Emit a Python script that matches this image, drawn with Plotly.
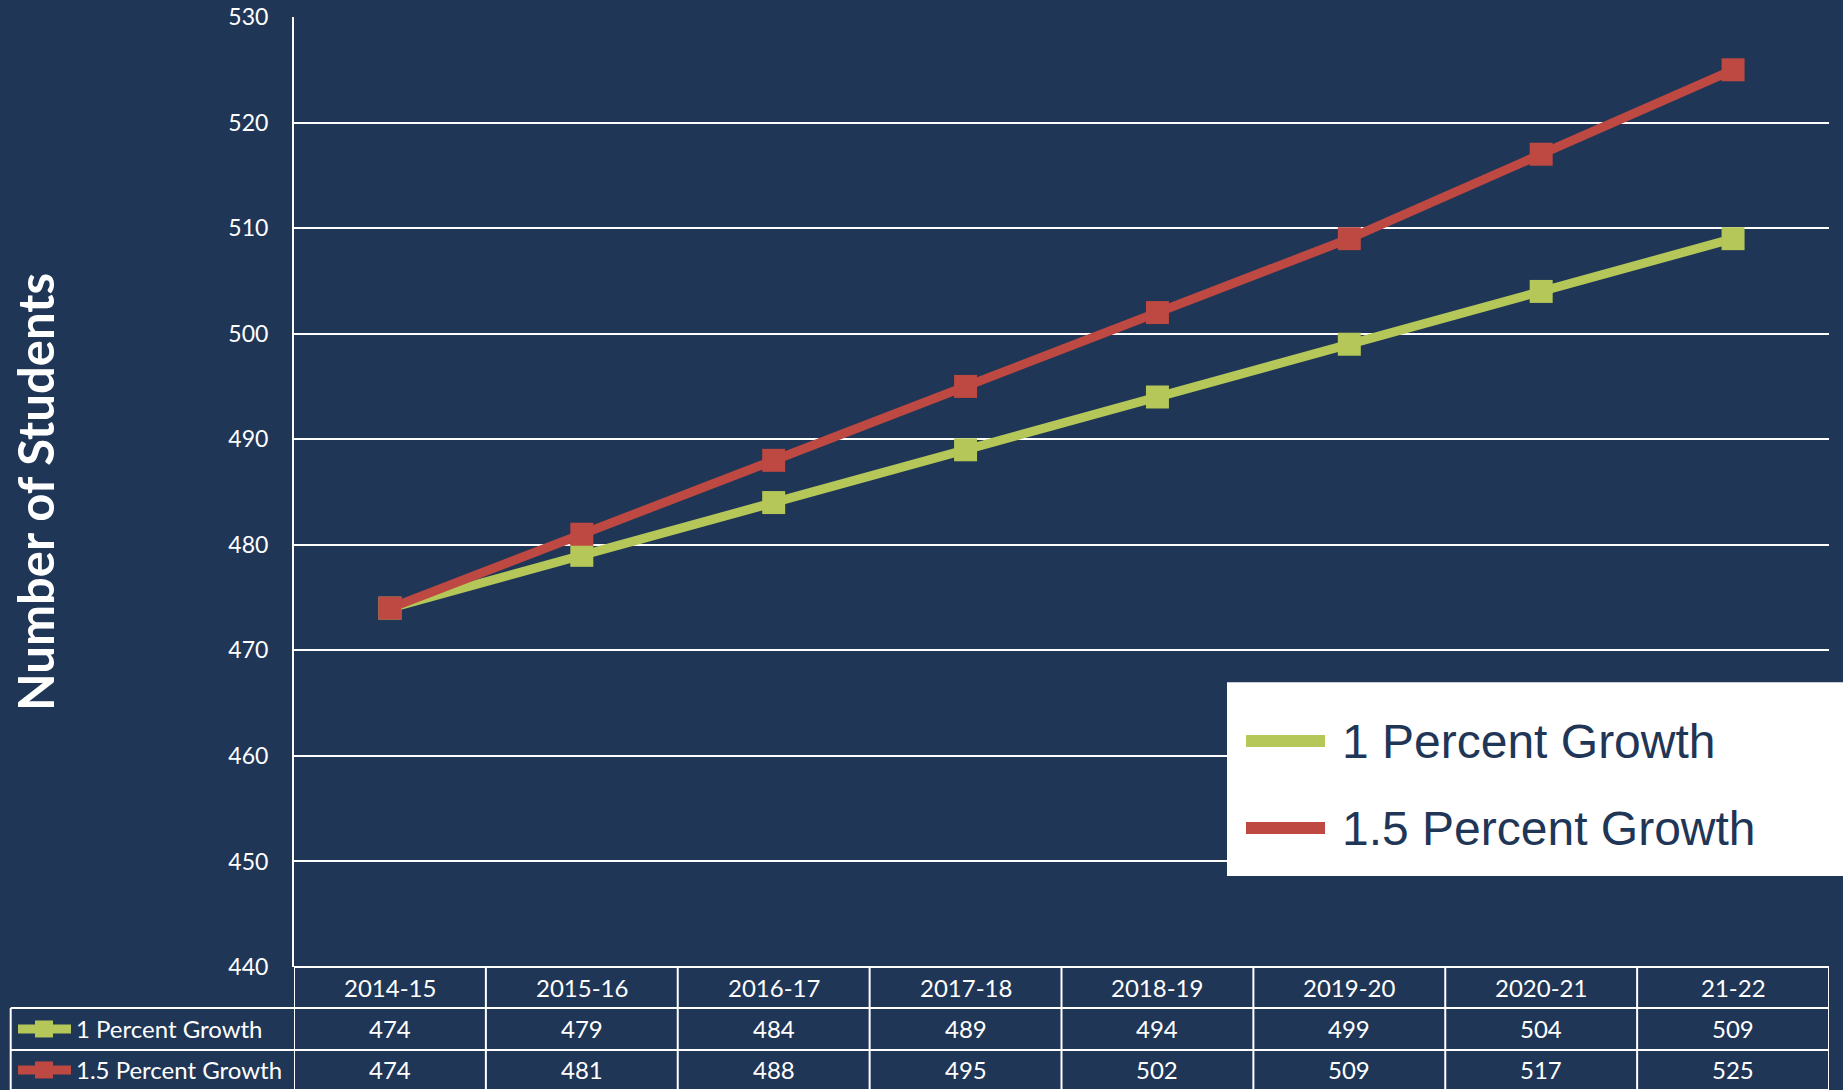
import plotly.graph_objects as go

# ---- data ----
years = ["2014-15", "2015-16", "2016-17", "2017-18", "2018-19", "2019-20", "2020-21", "21-22"]
series_names = ["1 Percent Growth", "1.5 Percent Growth"]
growth_1 = [474, 479, 484, 489, 494, 499, 504, 509]
growth_15 = [474, 481, 488, 495, 502, 509, 517, 525]
y_ticks = [440, 450, 460, 470, 480, 490, 500, 510, 520, 530]

# ---- styles ----
BG = "#1f3657"
GREEN = "#b4c758"
RED = "#be4842"
WHITE = "#ffffff"
colors = [GREEN, RED]
series = [growth_1, growth_15]

W, H = 1843, 1090
L, R, T, B = 294, 14, 16.5, 123
plot_h = H - T - B
plot_w = W - L - R


def py(pixel_y):
    """pixel y -> paper y"""
    return (H - B - pixel_y) / plot_h


def px(pixel_x):
    return (pixel_x - L) / plot_w


fig = go.Figure()
for name, vals, col in zip(series_names, series, colors):
    fig.add_trace(go.Scatter(
        x=years, y=vals, name=name, mode="lines+markers",
        line=dict(color=col, width=9),
        marker=dict(symbol="square", size=23, color=col, line=dict(width=0)),
        showlegend=False,
    ))

shapes = []
annotations = []

# table geometry (pixels)
row_edges = [967, 1008, 1050, 1090]
table_left = 10.7

# horizontal lines
shapes.append(dict(type="line", xref="paper", yref="paper", x0=0, x1=1,
                   y0=py(row_edges[0]), y1=py(row_edges[0]), line=dict(color=WHITE, width=2)))
for ry in row_edges[1:]:
    shapes.append(dict(type="line", xref="paper", yref="paper", x0=px(table_left), x1=1,
                       y0=py(ry), y1=py(ry), line=dict(color=WHITE, width=2)))
# vertical lines between categories
for i in range(len(years) + 1):
    shapes.append(dict(type="line", xref="x", yref="paper", x0=i - 0.5, x1=i - 0.5,
                       y0=py(row_edges[0]), y1=py(row_edges[-1]), line=dict(color=WHITE, width=2)))
# left column border
shapes.append(dict(type="line", xref="paper", yref="paper", x0=px(table_left), x1=px(table_left),
                   y0=py(row_edges[1]), y1=py(row_edges[-1]), line=dict(color=WHITE, width=2)))

tfont = dict(family="Lato, Calibri, sans-serif", size=24, color=WHITE)
# header row
for yr in years:
    annotations.append(dict(x=yr, xref="x", y=py((row_edges[0] + row_edges[1]) / 2), yref="paper",
                            text=yr, showarrow=False, font=tfont, xanchor="center", yanchor="middle"))
# data rows
for r, (name, vals, col) in enumerate(zip(series_names, series, colors)):
    cy = (row_edges[r + 1] + row_edges[r + 2]) / 2
    for yr, v in zip(years, vals):
        annotations.append(dict(x=yr, xref="x", y=py(cy), yref="paper", text=str(v),
                                showarrow=False, font=tfont, xanchor="center", yanchor="middle"))
    annotations.append(dict(x=px(74), xref="paper", y=py(cy), yref="paper", text=name,
                            showarrow=False, font=tfont, xanchor="left", yanchor="middle"))
    # legend key glyph in table
    shapes.append(dict(type="line", xref="paper", yref="paper", x0=px(18), x1=px(71),
                       y0=py(cy), y1=py(cy), line=dict(color=col, width=9)))
    shapes.append(dict(type="rect", xref="paper", yref="paper", x0=px(35), x1=px(53),
                       y0=py(cy + 8.5), y1=py(cy - 8.5), line=dict(width=0), fillcolor=col))

# big legend box
shapes.append(dict(type="rect", xref="paper", yref="paper", x0=px(1227), x1=px(1850),
                   y0=py(876), y1=py(682), fillcolor=WHITE, line=dict(width=0), layer="above"))
leg_rows = [741, 828]
for name, col, ly in zip(series_names, colors, leg_rows):
    shapes.append(dict(type="rect", xref="paper", yref="paper", x0=px(1246), x1=px(1325),
                       y0=py(ly + 6), y1=py(ly - 6), fillcolor=col, line=dict(width=0), layer="above"))
    annotations.append(dict(x=px(1340), xref="paper", y=py(ly), yref="paper", text=name,
                            showarrow=False, xanchor="left", yanchor="middle",
                            font=dict(family="Liberation Sans, Arial, sans-serif", size=48, color=BG)))

fig.update_layout(
    width=W, height=H, autosize=False,
    margin=dict(l=L, r=R, t=T, b=B, pad=0),
    paper_bgcolor=BG, plot_bgcolor=BG,
    shapes=shapes, annotations=annotations,
    showlegend=False,
    xaxis=dict(type="category", categoryorder="array", categoryarray=years,
               range=[-0.5, len(years) - 0.5], showticklabels=False, showgrid=False,
               zeroline=False, showline=False, ticks="", automargin=False),
    yaxis=dict(range=[440, 530], tickvals=y_ticks, ticks="", ticklabelstandoff=19,
               showgrid=True, gridcolor=WHITE, gridwidth=2, zeroline=False,
               showline=True, linecolor=WHITE, linewidth=2, automargin=False,
               tickfont=dict(family="Lato, Calibri, sans-serif", size=23, color=WHITE),
               title=dict(text="Number of Students", standoff=158,
                          font=dict(family="Lato, Calibri, sans-serif", size=49, color=WHITE, weight="bold"))),
)

fig.write_html("out.html", config={"displayModeBar": False},
               post_script="document.body.style.margin='0';document.body.style.overflow='hidden';")
